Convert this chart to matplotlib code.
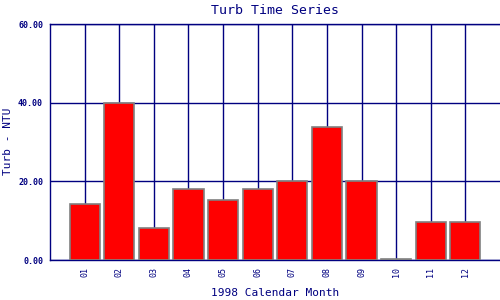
import matplotlib
matplotlib.use('Agg')
import matplotlib.pyplot as plt

# Monthly turbidity, 1998
months = ['01', '02', '03', '04', '05', '06', '07', '08', '09', '10', '11', '12']
turb = [14.2, 39.8, 8.05, 18.0, 15.2, 18.1, 20.0, 33.7, 20.0, 0.35, 9.66, 9.66]
yticks = [0, 20, 40, 60]

navy = '#000080'
plt.rcParams['font.family'] = 'DejaVu Sans Mono'

fig = plt.figure(figsize=(5, 3), dpi=100)
ax = fig.add_axes([0.1, 0.1333, 0.9, 0.7867])

x = list(range(1, len(months) + 1))
ax.bar(x, turb, width=0.87, color='#ff0000', edgecolor='#808080', linewidth=1.2, zorder=3)

ax.set_xlim(0, 13)
ax.set_ylim(0, 60)
ax.set_xticks(x)
ax.set_xticklabels(months, rotation=90, fontsize=6, color=navy)
ax.set_yticks(yticks)
ax.set_yticklabels(['%.2f' % v for v in yticks], fontsize=6, fontweight='bold', color=navy)
ax.tick_params(length=0, pad=5)

ax.grid(True, color=navy, linewidth=1.0, zorder=0)
for side in ['left', 'bottom', 'top']:
    ax.spines[side].set_color(navy)
    ax.spines[side].set_linewidth(1.0)
ax.spines['right'].set_visible(False)

ax.set_title('Turb Time Series', fontsize=9.5, color=navy, pad=7)
# axis labels placed in figure coordinates
fig.text(0.55, 0.022, '1998 Calendar Month', fontsize=8, color=navy,
         ha='center', va='center')
fig.text(0.017, 0.53, 'Turb - NTU', fontsize=8, color=navy,
         ha='center', va='center', rotation=90)

plt.savefig('out.png', dpi=100)
